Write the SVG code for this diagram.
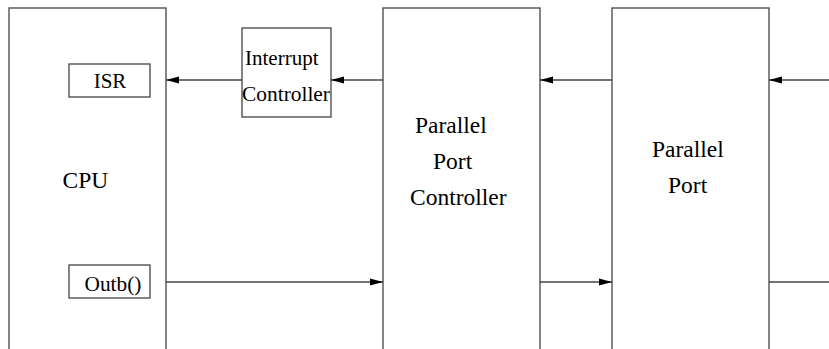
<svg xmlns="http://www.w3.org/2000/svg" width="829" height="349" viewBox="0 0 829 349">
<style>
.box{fill:#fff;stroke:#444;stroke-width:1.3}
.ln{stroke:#444;stroke-width:1.3;fill:none}
.t{font-family:"Liberation Serif","Times New Roman",serif;fill:#000}
.big{font-size:23.5px}
.mid{font-size:21px}
</style>
<defs>
<marker id="ah" markerWidth="14" markerHeight="8" refX="13" refY="4" orient="auto" markerUnits="userSpaceOnUse">
<path d="M0,0.5 L13,4 L0,7.5 Z" fill="#000"/>
</marker>
</defs>
<g id="cpu">
<rect class="box" x="9" y="8" width="157" height="360"/>
<text class="t big" x="62.5" y="188">CPU</text>
</g>
<g id="isr">
<rect class="box" x="69" y="64" width="81" height="33"/>
<text class="t mid" x="110" y="88" text-anchor="middle">ISR</text>
</g>
<g id="outb">
<rect class="box" x="69" y="265" width="81" height="33"/>
<text class="t mid" x="113" y="291" text-anchor="middle" textLength="57" lengthAdjust="spacingAndGlyphs">Outb()</text>
</g>
<g id="interrupt-controller">
<rect class="box" x="242" y="28" width="89" height="89"/>
<text class="t mid" x="245" y="65">Interrupt</text>
<text class="t mid" x="242" y="101" textLength="88" lengthAdjust="spacingAndGlyphs">Controller</text>
</g>
<g id="parallel-port-controller">
<rect class="box" x="383" y="8" width="157" height="360"/>
<text class="t big" x="415" y="133">Parallel</text>
<text class="t big" x="433" y="169">Port</text>
<text class="t big" x="410" y="205">Controller</text>
</g>
<g id="parallel-port">
<rect class="box" x="612" y="8" width="157" height="360"/>
<text class="t big" x="652" y="157">Parallel</text>
<text class="t big" x="668" y="193">Port</text>
</g>
<g id="connectors">
<line class="ln" x1="242" y1="80" x2="166" y2="80" marker-end="url(#ah)"/>
<line class="ln" x1="383" y1="80" x2="331" y2="80" marker-end="url(#ah)"/>
<line class="ln" x1="612" y1="80" x2="540" y2="80" marker-end="url(#ah)"/>
<line class="ln" x1="829" y1="80" x2="769" y2="80" marker-end="url(#ah)"/>
<line class="ln" x1="166" y1="282" x2="383" y2="282" marker-end="url(#ah)"/>
<line class="ln" x1="540" y1="282" x2="612" y2="282" marker-end="url(#ah)"/>
<line class="ln" x1="769" y1="282" x2="829" y2="282"/>
</g>
</svg>
